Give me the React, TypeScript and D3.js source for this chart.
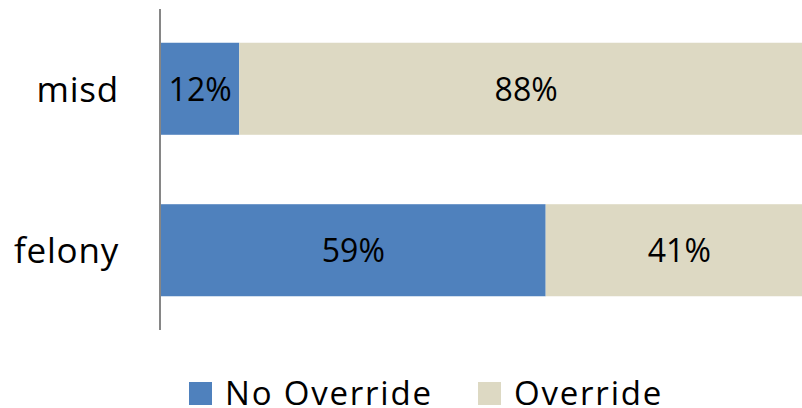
import React from "react";
import * as d3 from "d3";

const categories = ["misd", "felony"];
const seriesNames = ["No Override", "Override"];
const noOverride = [12, 59];
const override = [88, 41];
const seriesColors = ["#4F81BD", "#DDD9C3"];

const W = 802;
const H = 408;
const FONT = "'Open Sans', sans-serif";

export default function App() {
  const x = d3.scaleLinear().domain([0, 100]).range([161, 813]);
  const y = d3
    .scaleBand<string>()
    .domain(categories)
    .range([9, 330])
    .paddingInner(0.43)
    .paddingOuter(0.209);

  const rows = categories.map((c, i) => ({ cat: c, values: [noOverride[i], override[i]] }));
  const stack = d3.stack<any>().keys(["0", "1"]).value((d: any, k: string) => d.values[+k]);
  const layers = stack(rows as any);

  const legendX = [189, 478];

  return (
    <svg
      width={W}
      height={H}
      style={{ position: "absolute", left: 0, top: 0, background: "#fff" }}
      fontFamily={FONT}
    >
      {layers.map((layer, si) => (
        <g key={si}>
          {layer.map((seg, ci) => {
            const cat = categories[ci];
            const x0 = x(seg[0]);
            const x1 = x(seg[1]);
            const yTop = y(cat)!;
            const bw = y.bandwidth();
            return (
              <g key={cat}>
                <rect x={x0} y={yTop} width={x1 - x0} height={bw} fill={seriesColors[si]} />
                <text
                  x={(x0 + x1) / 2}
                  y={yTop + bw / 2 + 12}
                  textAnchor="middle"
                  fontSize={32}
                  fill="#000"
                >
                  {`${seg[1] - seg[0]}%`}
                </text>
              </g>
            );
          })}
        </g>
      ))}
      <line x1={160} x2={160} y1={y.range()[0]} y2={y.range()[1]} stroke="#868686" strokeWidth={2} />
      {categories.map((c) => (
        <text
          key={c}
          x={119}
          y={y(c)! + y.bandwidth() / 2 + 13}
          textAnchor="end"
          fontSize={35}
          letterSpacing={0.8}
          fill="#000"
        >
          {c}
        </text>
      ))}
      {seriesNames.map((n, i) => (
        <g key={n} transform={`translate(${legendX[i]},382)`}>
          <rect x={0} y={0} width={23} height={23} fill={seriesColors[i]} />
          <text x={36} y={22.5} fontSize={33} letterSpacing={1.8} fill="#000">
            {n}
          </text>
        </g>
      ))}
    </svg>
  );
}
